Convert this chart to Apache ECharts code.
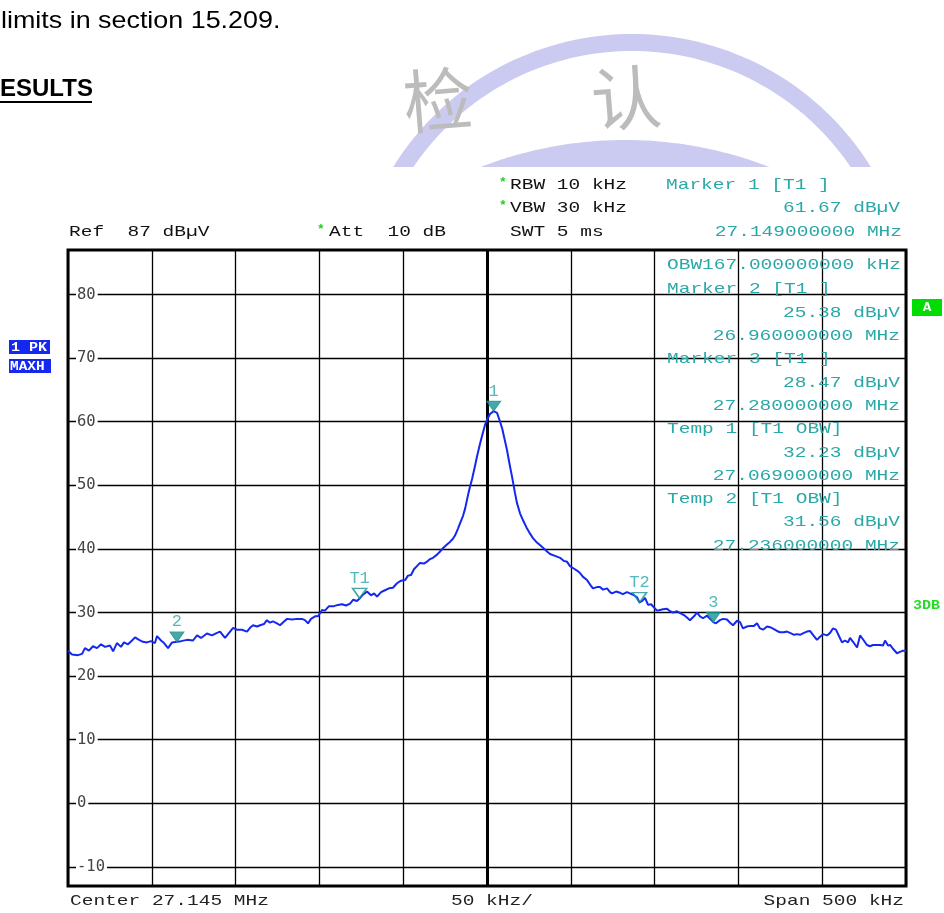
<!DOCTYPE html>
<html><head><meta charset="utf-8">
<script src="https://cdn.jsdelivr.net/npm/echarts@6/dist/echarts.min.js"></script>
<style>html,body{margin:0;padding:0;background:#fff}#c{width:944px;height:913px}</style>
</head><body><div id="c"></div>
<script>
// ---------- data ----------
const centerMHz = 27.145;
const spanKHz = 500;
const startMHz = 26.895;
const refLevel = 87;
const bottomLevel = -13;
const yTicks = [-10, 0, 10, 20, 30, 40, 50, 60, 70, 80];
const xTicksKHz = [0, 50, 100, 150, 200, 250, 300, 350, 400, 450, 500];

// trace: offset from start frequency (kHz) and level (dBµV)
const traceKHz = [0,2.4,6.0,8.4,10.1,12.5,14.9,17.3,19.7,22.1,
25.1,26.9,29.2,31.6,33.4,35.8,38.2,40.0,42.4,44.7,
47.1,49.5,51.9,53.1,55.5,57.3,59.7,62.1,65.0,67.4,
71.0,74.6,77.0,79.4,82.9,85.9,88.9,90.7,93.7,96.1,
98.5,100.8,103.8,106.8,108.6,110.4,112.8,114.6,117.0,118.7,
120.5,122.3,124.7,126.5,128.9,130.7,133.7,136.6,139.6,141.4,
143.2,145.0,147.4,149.2,151.6,153.3,155.7,158.7,161.1,163.5,
165.9,168.3,170.1,172.4,174.0,176.0,178.4,180.8,182.6,184.4,
186.8,189.1,191.5,193.9,196.3,198.7,201.1,202.9,204.7,206.4,
208.2,210.0,212.4,214.2,216.0,217.8,220.2,222.0,223.7,226.1,
227.9,229.7,230.9,232.7,233.9,235.7,236.9,238.7,239.9,241.1,
242.8,244.0,245.8,247.0,248.8,250.0,251.8,254.0,256.0,257.8,
259.0,260.7,261.9,263.7,264.9,266.7,267.9,269.7,271.5,273.9,
275.7,277.4,279.8,281.6,283.4,285.8,287.6,290.6,293.6,295.9,
297.7,299.5,301.3,303.7,305.5,307.3,309.7,311.5,313.2,315.6,
317.4,319.2,321.6,323.4,324.6,327.0,329.4,331.1,333.5,335.3,
337.1,339.5,341.0,342.5,344.3,346.1,347.9,349.0,351.4,353.2,
355.0,357.4,359.2,361.0,363.4,365.2,367.5,369.3,371.1,373.5,
375.3,377.1,378.9,381.3,383.1,385.0,386.6,389.0,390.8,393.2,
395.0,396.8,399.2,401.0,402.7,405.1,406.9,409.3,411.1,412.9,
414.7,417.1,418.9,421.2,423.0,424.8,427.2,429.0,430.8,433.2,
435.0,436.8,439.1,440.9,442.7,444.5,446.9,448.7,450.5,452.9,
454.7,456.4,458.2,460.0,461.8,463.6,465.4,466.6,468.4,470.8,
472.6,474.3,476.7,478.5,480.3,482.1,484.5,486.3,487.5,489.3,
490.5,492.2,494.6,496.4,498.2,500];
const traceLevel = [24.0,23.4,23.3,23.5,24.4,24.0,24.7,24.4,25.0,24.6,
24.8,23.9,25.2,24.6,25.3,25.0,25.6,26.1,25.7,25.4,
25.3,25.5,25.2,26.3,25.6,25.2,24.4,25.3,25.4,25.5,
25.7,25.6,26.4,26.0,26.7,26.4,26.8,27.0,26.0,26.8,
27.6,27.3,27.3,27.0,27.6,28.0,27.8,28.0,28.2,28.8,
28.4,28.6,28.3,28.0,28.6,29.0,28.9,29.0,29.0,28.8,
28.3,29.0,29.4,29.4,30.4,30.3,31.0,31.0,31.2,31.3,
31.1,31.4,32.0,31.8,32.2,32.8,33.3,32.7,33.0,32.5,
33.2,33.5,33.8,33.9,34.6,35.0,35.1,35.8,35.9,36.8,
37.3,37.8,37.7,38.0,38.4,38.6,39.1,39.6,40.1,40.7,
41.1,41.6,42.1,43.2,44.0,45.2,46.3,48.5,49.8,51.0,
53.0,54.5,56.5,57.7,59.5,60.3,61.2,61.67,61.4,60.0,
59.0,57.0,55.6,53.0,51.4,48.8,47.2,45.6,44.5,43.2,
42.4,41.7,41.0,40.6,40.2,39.6,39.2,38.9,38.6,38.1,
38.0,37.3,37.0,36.6,36.2,35.6,35.1,34.4,33.8,34.0,
34.0,33.6,33.8,33.2,33.0,33.3,33.1,32.9,33.2,33.0,
32.8,32.4,31.6,31.8,32.3,31.2,31.3,31.2,30.3,30.4,
30.5,30.6,30.2,30.0,30.2,29.9,29.6,29.2,28.8,29.4,
30.0,29.4,29.1,29.5,29.0,28.5,28.3,28.8,29.0,28.9,
28.4,28.0,28.7,28.5,27.5,27.8,27.9,27.9,28.3,27.5,
27.3,27.8,27.7,27.4,27.1,26.9,26.9,27.0,26.8,26.5,
26.6,26.5,26.8,27.0,27.1,26.5,25.7,26.2,26.6,26.4,
26.8,27.5,27.3,26.3,25.3,25.6,25.3,26.0,25.4,24.5,
26.4,25.8,24.9,24.7,24.9,24.9,24.9,24.8,25.6,24.8,
24.9,24.3,23.6,23.8,24.0,24.0];

// markers
const markerName = ['1', '2', '3', 'T1', 'T2'];
const markerMHz = [27.149, 26.960, 27.280, 27.069, 27.236];
const markerLevel = [61.67, 25.38, 28.47, 32.23, 31.56];
const markerFilled = [true, true, true, false, false];
const markerTitle = ['Marker 1 [T1 ]', 'Marker 2 [T1 ]', 'Marker 3 [T1 ]', 'Temp 1 [T1 OBW]', 'Temp 2 [T1 OBW]'];
const obwText = 'OBW167.000000000 kHz';

// ---------- styles ----------
const TEAL = '#2aa8a8';
const TEALM = '#169494';
const MONO = '"Liberation Mono", "Courier New", monospace';
const SX = 1.3;

function txt(x, y, text, o) {
  o = o || {};
  const align = o.align || 'left';
  return {
    type: 'text', x: x, y: y, scaleX: o.sx || SX, z: 50, silent: true,
    style: {
      text: text, fill: o.color || '#111',
      font: (o.weight || 'normal') + ' ' + (o.size || 15) + 'px ' + (o.family || MONO),
      align: align, textAlign: align, verticalAlign: 'middle', textVerticalAlign: 'middle'
    }
  };
}

const graphics = [];

// watermark (document background)
function circlePts(cx, cy, r, yCut, n) {
  const s = Math.max(-1, Math.min(1, (yCut - cy) / r));
  const a1 = Math.asin(s), a0 = -Math.PI - a1;
  const pts = [];
  for (let i = 0; i <= n; i++) {
    const a = a0 + (a1 - a0) * i / n;
    pts.push([cx + r * Math.cos(a), cy + r * Math.sin(a)]);
  }
  return pts;
}
const wmCol = '#cbcbf1';
const outer = circlePts(632, 315, 281, 167, 80);
const inner = circlePts(632, 315, 264, 167, 80).reverse();
graphics.push({ type: 'polygon', z: 1, silent: true, shape: { points: outer.concat(inner) }, style: { fill: wmCol } });
graphics.push({ type: 'polygon', z: 1, silent: true, shape: { points: circlePts(625, 540, 400, 167, 80) }, style: { fill: wmCol } });
graphics.push({ type: 'text', x: 438, y: 100, rotation: 0.08, z: 2, silent: true,
  style: { text: '检', fill: '#bcbcbc', font: '70px "Noto Sans CJK SC"', align: 'center', textAlign: 'center', verticalAlign: 'middle', textVerticalAlign: 'middle' } });
graphics.push({ type: 'text', x: 626, y: 98, rotation: 0.08, z: 2, silent: true,
  style: { text: '认', fill: '#bcbcbc', font: '70px "Noto Sans CJK SC"', align: 'center', textAlign: 'center', verticalAlign: 'middle', textVerticalAlign: 'middle' } });

// document text
graphics.push(txt(1, 21, 'limits in section 15.209.', { family: '"Liberation Sans", Arial, sans-serif', size: 24, sx: 1.12, color: '#000' }));
graphics.push(txt(0, 89, 'ESULTS', { family: '"Liberation Sans", Arial, sans-serif', size: 24, weight: 'bold', sx: 1.0, color: '#000' }));
graphics.push({ type: 'rect', z: 50, silent: true, shape: { x: 0, y: 101, width: 92, height: 2 }, style: { fill: '#000' } });

// analyzer header
graphics.push(txt(69, 232, 'Ref  87 dBµV'));
graphics.push(txt(317, 230, '*', { color: '#1fd01f', weight: 'bold', size: 13, sx: 1 }));
graphics.push(txt(329, 232, 'Att  10 dB'));
graphics.push(txt(499, 183, '*', { color: '#1fd01f', weight: 'bold', size: 13, sx: 1 }));
graphics.push(txt(510, 185, 'RBW 10 kHz'));
graphics.push(txt(499, 206, '*', { color: '#1fd01f', weight: 'bold', size: 13, sx: 1 }));
graphics.push(txt(510, 208, 'VBW 30 kHz'));
graphics.push(txt(510, 232, 'SWT 5 ms'));

const lvl = v => v.toFixed(2) + ' dBµV';
const frq = f => f.toFixed(9) + ' MHz';
graphics.push(txt(666, 185, markerTitle[0], { color: TEAL }));
graphics.push(txt(900, 208, lvl(markerLevel[0]), { color: TEAL, align: 'right' }));
graphics.push(txt(902, 232, frq(markerMHz[0]), { color: TEAL, align: 'right' }));

// marker table inside plot
graphics.push(txt(667, 265, obwText, { color: TEAL }));
const rowY0 = 289.5, rowStep = 23.3;
for (let m = 1; m < 5; m++) {
  const base = rowY0 + (m - 1) * 3 * rowStep;
  graphics.push(txt(667, base, markerTitle[m], { color: TEAL }));
  graphics.push(txt(900, base + rowStep, lvl(markerLevel[m]), { color: TEAL, align: 'right' }));
  graphics.push(txt(900, base + 2 * rowStep, frq(markerMHz[m]), { color: TEAL, align: 'right' }));
}

// footer
graphics.push(txt(70, 901, 'Center ' + centerMHz.toFixed(3) + ' MHz', { color: '#222' }));
graphics.push(txt(451, 901, (spanKHz / 10) + ' kHz/', { color: '#222' }));
graphics.push(txt(904, 901, 'Span ' + spanKHz + ' kHz', { color: '#222', align: 'right' }));

// side badges
graphics.push({ type: 'rect', z: 40, silent: true, shape: { x: 9, y: 340, width: 41, height: 14 }, style: { fill: '#1428f0' } });
graphics.push(txt(11, 347.5, '1 PK', { color: '#fff', weight: 'bold', size: 12, sx: 1.25 }));
graphics.push({ type: 'rect', z: 40, silent: true, shape: { x: 9, y: 359, width: 42, height: 14 }, style: { fill: '#1428f0' } });
graphics.push(txt(10, 366.5, 'MAXH', { color: '#fff', weight: 'bold', size: 12, sx: 1.2 }));
graphics.push({ type: 'rect', z: 40, silent: true, shape: { x: 912, y: 299, width: 30, height: 17 }, style: { fill: '#00dd00' } });
graphics.push(txt(927, 307.5, 'A', { color: '#fff', weight: 'bold', size: 12, sx: 1.2, align: 'center' }));
graphics.push(txt(913, 606, '3DB', { color: '#22dd22', weight: 'bold', size: 12, sx: 1.25 }));

// ---------- chart ----------
const chart = echarts.init(document.getElementById('c'), null, { renderer: 'canvas' });
const tracePts = traceKHz.map((k, i) => [k, traceLevel[i]]);
const markerPts = markerMHz.map((f, i) => ({
  value: [(f - startMHz) * 1000, markerLevel[i]],
  name: markerName[i],
  itemStyle: markerFilled[i]
    ? { color: TEALM, borderColor: TEALM, borderWidth: 1 }
    : { color: 'rgba(255,255,255,0)', borderColor: TEALM, borderWidth: 1.6 }
}));

chart.setOption({
  animation: false,
  backgroundColor: '#fff',
  grid: { left: 68, right: 38, top: 250, bottom: 27, show: true, borderColor: '#000', borderWidth: 3, backgroundColor: 'rgba(0,0,0,0)' },
  xAxis: {
    type: 'value', min: 0, max: spanKHz, interval: 50,
    axisLine: { show: false }, axisTick: { show: false }, axisLabel: { show: false },
    splitLine: { show: true, lineStyle: { color: '#000', width: 1.3 } }
  },
  yAxis: {
    type: 'value', min: bottomLevel, max: refLevel,
    axisLine: { show: false },
    axisTick: { show: false, customValues: yTicks },
    axisLabel: {
      customValues: yTicks, inside: true, margin: 8,
      color: '#444', fontFamily: '"DejaVu Sans Mono", monospace', fontSize: 15.5,
      backgroundColor: '#fff', padding: [0, 2, 0, 1]
    },
    splitLine: { show: true, lineStyle: { color: '#000', width: 1.3 } },
    z: 1
  },
  graphic: { elements: graphics },
  series: [
    {
      type: 'line', data: [], z: 1, silent: true,
      markLine: {
        silent: true, symbol: 'none', label: { show: false },
        lineStyle: { color: '#000', width: 3, type: 'solid' },
        data: [{ xAxis: 250 }]
      }
    },
    {
      type: 'line', data: tracePts, showSymbol: false, z: 5, silent: true,
      lineStyle: { color: '#1428f0', width: 2 }
    },
    {
      type: 'scatter', data: markerPts, z: 6, silent: true,
      symbol: 'path://M0,0 L12,0 L6,9 Z', symbolSize: [14, 10], symbolOffset: [0, -5],
      label: {
        show: true, position: 'top', distance: 1, formatter: p => p.name,
        color: TEAL, fontFamily: MONO, fontSize: 17
      }
    }
  ]
});
</script>
</body></html>
